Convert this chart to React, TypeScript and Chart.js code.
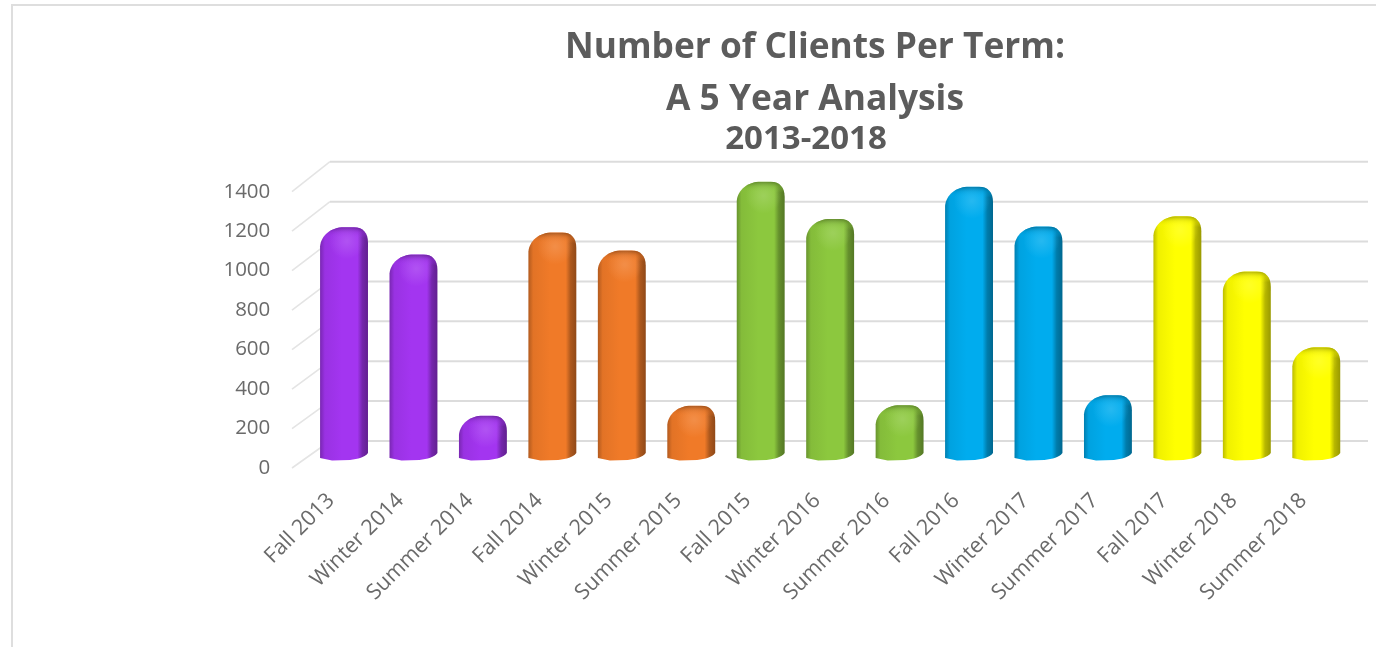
import React, { useEffect, useRef } from "react";
import { Chart, registerables } from "chart.js";

Chart.register(...registerables);

const terms = [
  "Fall 2013", "Winter 2014", "Summer 2014",
  "Fall 2014", "Winter 2015", "Summer 2015",
  "Fall 2015", "Winter 2016", "Summer 2016",
  "Fall 2016", "Winter 2017", "Summer 2017",
  "Fall 2017", "Winter 2018", "Summer 2018",
];
const clients = [
  1167, 1030, 222,
  1140, 1050, 272,
  1395, 1208, 275,
  1370, 1170, 325,
  1222, 945, 565,
];
const axisTicks = [0, 200, 400, 600, 800, 1000, 1200, 1400];
const purple = [163, 53, 240];
const orange = [240, 122, 40];
const green = [140, 200, 62];
const blue = [0, 172, 238];
const yellow = [255, 255, 0];
const yearColors = [purple, orange, green, blue, yellow];
const barColors = terms.map((_, i) => yearColors[Math.floor(i / 3)]);
const titleLines = ["Number of Clients Per Term:", "A 5 Year Analysis"];
const subtitleLine = "2013-2018";
const fontFamily = "'Open Sans'";

const shade = (c: number[], k: number, alpha = 1) =>
  `rgba(${c.map((v) => Math.min(255, Math.round(v * k))).join(",")},${alpha})`;
const tint = (c: number[], t: number, alpha = 1) =>
  `rgba(${c.map((v) => Math.round(v + (255 - v) * t)).join(",")},${alpha})`;

// The headings sit off-centre relative to the plot, so their boxes are nudged after layout.
const headingPlugin = {
  id: "headingShift",
  afterLayout(chart: any) {
    chart.boxes.forEach((box: any) => {
      const text = box.options && box.options.text;
      if (text === titleLines) {
        box.left += 32;
        box.right += 32;
      } else if (text === subtitleLine) {
        box.left += 23;
        box.right += 23;
      }
    });
  },
};

// Back wall and side wall of the pseudo-3D plot box.
const wallPlugin = {
  id: "wall",
  beforeDatasetsDraw(chart: any) {
    const { ctx, scales } = chart;
    const wallRight = chart.width - 8;
    ctx.save();
    scales.yLabels.ticks.forEach((t: any) => {
      const front = scales.yLabels.getPixelForValue(t.value) + 8;
      const back = scales.y.getPixelForValue(t.value) - 19;
      ctx.strokeStyle = "#e4e4e4";
      ctx.lineWidth = 1.6;
      ctx.beginPath();
      ctx.moveTo(292, front);
      ctx.lineTo(330, back);
      ctx.stroke();
      ctx.strokeStyle = "#dcdcdc";
      ctx.lineWidth = 2;
      ctx.beginPath();
      ctx.moveTo(330, back);
      ctx.lineTo(wallRight, back);
      ctx.stroke();
    });
    ctx.restore();
  },
};

function barOutline(ctx: CanvasRenderingContext2D, x0: number, x1: number, top: number, base: number) {
  ctx.beginPath();
  ctx.moveTo(x0, base - 2);
  ctx.lineTo(x0, top + 19);
  ctx.bezierCurveTo(x0 + 1, top + 8, x0 + 11, top, x0 + 24, top);
  ctx.lineTo(x1 - 14, top);
  ctx.bezierCurveTo(x1 - 5, top, x1, top + 6, x1, top + 15);
  ctx.lineTo(x1, base - 7);
  ctx.bezierCurveTo(x1 - 3, base - 3, x1 - 10, base - 1, x1 - 18, base);
  ctx.lineTo(x0 + 12, base + 0.5);
  ctx.closePath();
}

// Paints each bar as a shaded cylinder using the geometry Chart.js computed for it.
const cylinderPlugin = {
  id: "cylinder",
  beforeDatasetDraw(chart: any, args: any) {
    const { ctx } = chart;
    args.meta.data.forEach((bar: any, i: number) => {
      const { x, y, base, width } = bar.getProps(["x", "y", "base", "width"], true);
      const c = barColors[i];
      const x0 = x - width / 2;
      const x1 = x + width / 2;
      ctx.save();
      barOutline(ctx, x0, x1, y, base);
      const body = ctx.createLinearGradient(x0, 0, x1, 0);
      body.addColorStop(0, shade(c, 0.74));
      body.addColorStop(0.1, shade(c, 0.94));
      body.addColorStop(0.45, shade(c, 1));
      body.addColorStop(0.78, shade(c, 1));
      body.addColorStop(0.88, shade(c, 0.72));
      body.addColorStop(1, shade(c, 0.6));
      ctx.fillStyle = body;
      ctx.fill();
      ctx.clip();
      // Rim along the rounded top, then a soft highlight just below it.
      const cap = ctx.createLinearGradient(0, y, 0, y + 18);
      cap.addColorStop(0, shade(c, 0.6, 0.9));
      cap.addColorStop(0.28, shade(c, 0.85, 0.5));
      cap.addColorStop(0.6, shade(c, 1, 0));
      ctx.fillStyle = cap;
      ctx.fillRect(x0, y, width, 18);
      const cx = x0 + width * 0.56;
      const glow = ctx.createRadialGradient(cx, y + 14, 1, cx, y + 14, 18);
      glow.addColorStop(0, tint(c, 0.2, 0.7));
      glow.addColorStop(1, tint(c, 0.2, 0));
      ctx.fillStyle = glow;
      ctx.fillRect(x0, y, width, 36);
      ctx.restore();
    });
    return false;
  },
};

export default function App() {
  const canvasRef = useRef<HTMLCanvasElement>(null);

  useEffect(() => {
    const chart = new Chart(canvasRef.current!, {
      type: "bar",
      data: {
        labels: terms,
        datasets: [
          {
            label: "Clients",
            data: clients,
            backgroundColor: barColors.map((c) => shade(c, 1)),
            yAxisID: "y",
            barPercentage: 0.69,
            categoryPercentage: 1,
          },
        ],
      },
      plugins: [headingPlugin, wallPlugin, cylinderPlugin],
      options: {
        responsive: false,
        animation: false,
        layout: { padding: { left: 215, right: 25, top: 22, bottom: 0 } },
        plugins: {
          legend: { display: false },
          tooltip: { enabled: false },
          title: {
            display: true,
            text: titleLines,
            color: "#5c5c5c",
            font: { family: fontFamily, size: 35.3, weight: "bold", lineHeight: 1.473 },
            padding: 0,
          },
          subtitle: {
            display: true,
            text: subtitleLine,
            color: "#5a5a5a",
            font: { family: fontFamily, size: 33, weight: "bold", lineHeight: 0.85 },
            padding: { top: 0, bottom: 26.7 },
          },
        },
        scales: {
          x: {
            grid: { display: false },
            border: { display: false },
            ticks: {
              color: "#6a6a6a",
              font: { family: fontFamily, size: 21.5 },
              minRotation: 45,
              maxRotation: 45,
              autoSkip: false,
              padding: 20,
              labelOffset: -13,
            },
            afterFit(scale: any) {
              scale.height = 187;
            },
          },
          y: {
            display: false,
            min: 0,
            max: 1400,
            grid: { display: false },
          },
          yLabels: {
            position: "left",
            min: 0,
            max: 1415,
            grid: { display: false },
            border: { display: false },
            afterBuildTicks(scale: any) {
              scale.ticks = axisTicks.map((value) => ({ value }));
            },
            ticks: {
              callback: (value: any) => String(value),
              color: "#6a6a6a",
              font: { family: fontFamily, size: 20.5 },
              padding: 31,
              labelOffset: 8,
            },
            afterFit(scale: any) {
              scale.width = 94.3;
            },
          },
        },
      },
    } as any);
    return () => chart.destroy();
  }, []);

  return (
    <div style={{ position: "absolute", left: 0, top: 0, width: 1376, height: 647, overflow: "hidden", background: "#fff" }}>
      <div
        style={{
          position: "absolute",
          left: 11,
          top: 4,
          right: 0,
          bottom: 0,
          borderLeft: "2px solid #dedede",
          borderTop: "2px solid #dedede",
        }}
      />
      <canvas ref={canvasRef} width={1376} height={647} style={{ position: "absolute", left: 0, top: 0 }} />
    </div>
  );
}
